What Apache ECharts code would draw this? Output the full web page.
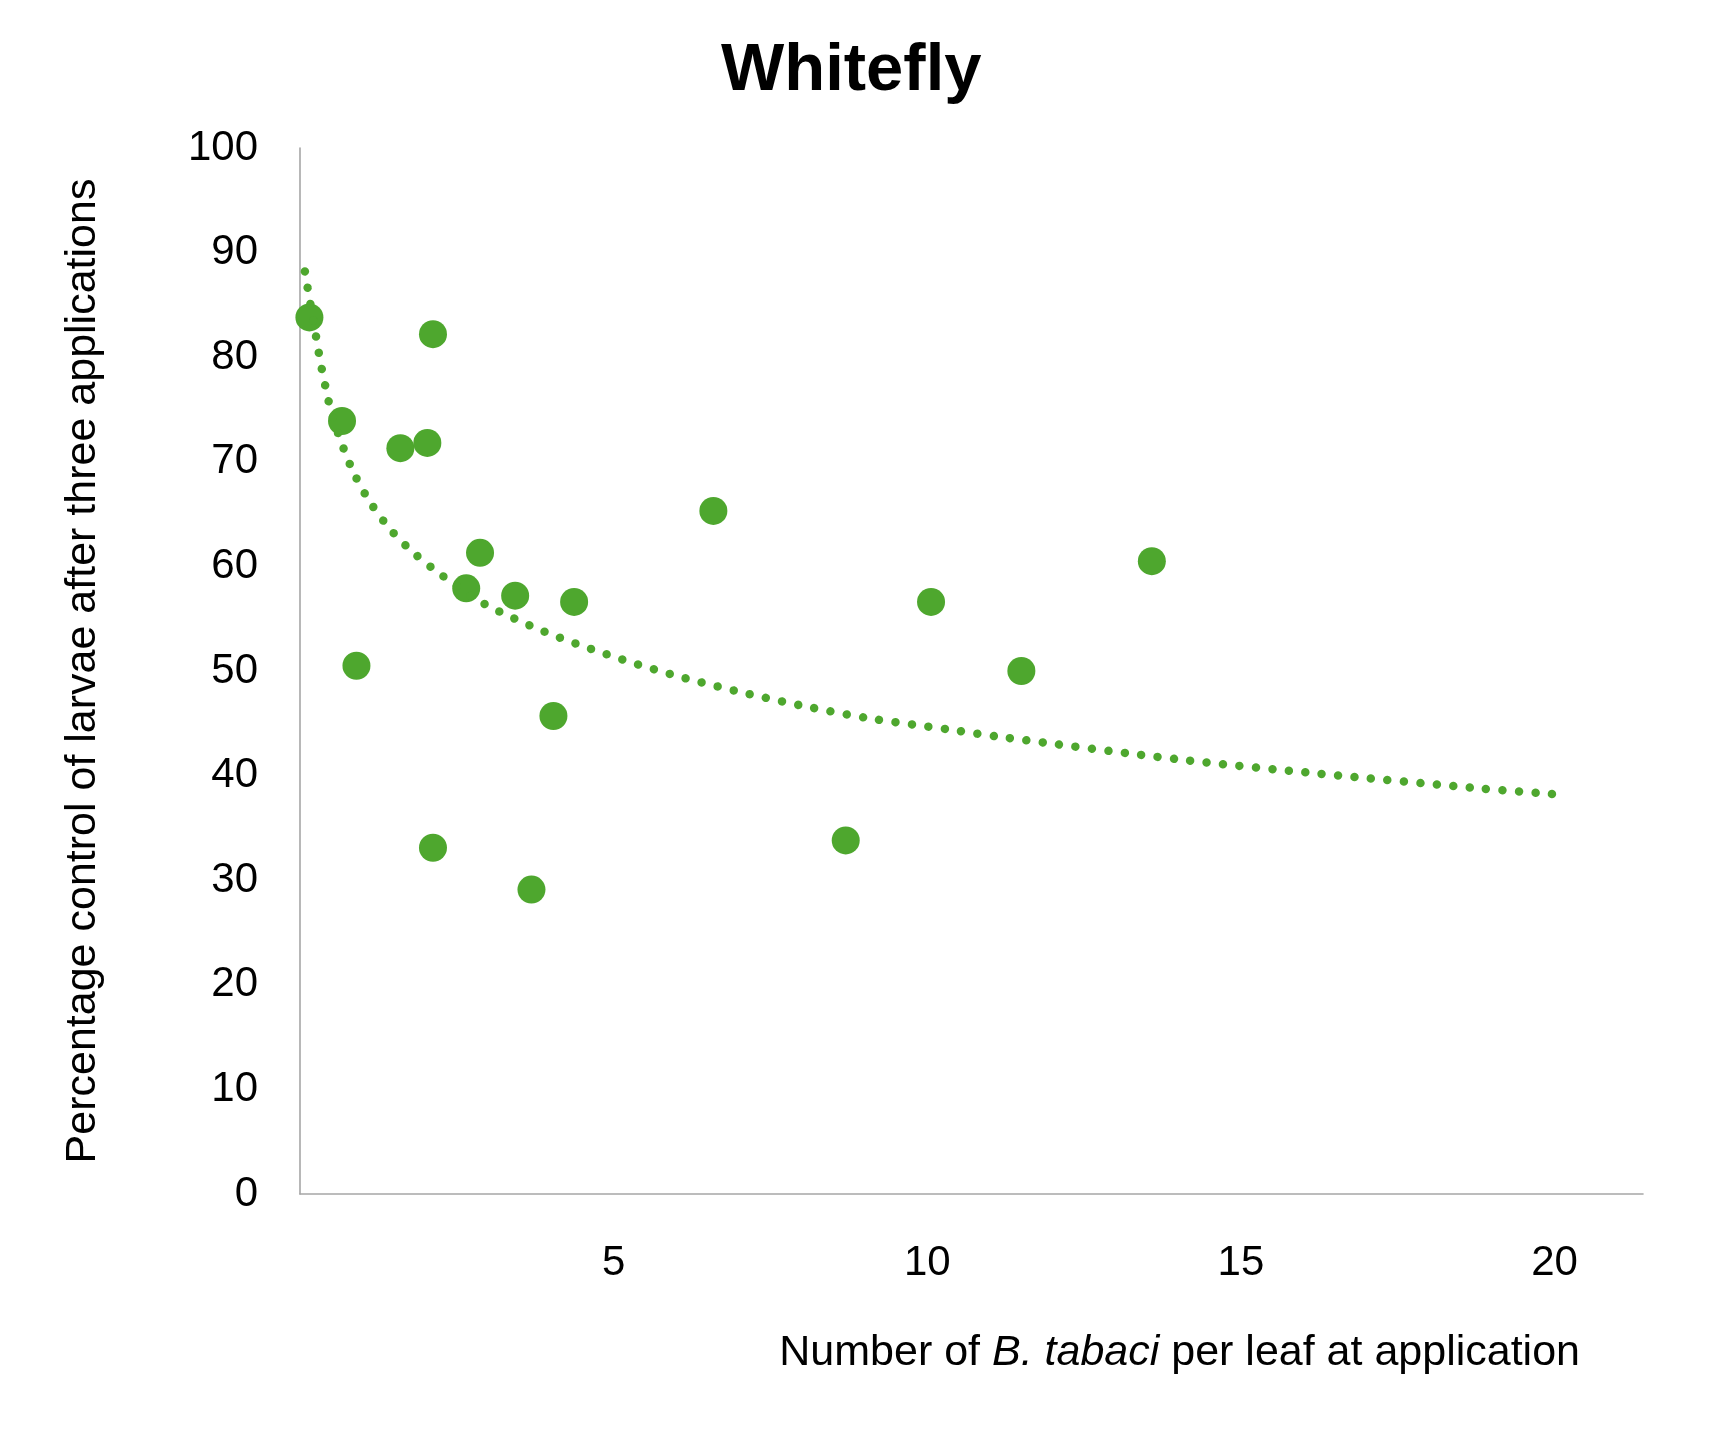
<!DOCTYPE html>
<html>
<head>
<meta charset="utf-8">
<script src="https://cdn.jsdelivr.net/npm/echarts@6/dist/echarts.min.js"></script>
<style>
html,body{margin:0;padding:0;background:#fff;}
#chart{width:1714px;height:1435px;}
</style>
</head>
<body>
<div id="chart"></div>
<script>
// Observed points: number of B. tabaci per leaf (x) vs % control (y)
const xValues = [0.15, 2.12, 0.67, 1.60, 2.03, 2.87, 2.65, 3.43, 4.37, 6.59, 0.90, 4.04, 2.12, 3.69, 8.70, 10.06, 11.50, 13.58];
const yValues = [83.8, 82.2, 73.9, 71.3, 71.8, 61.3, 57.9, 57.2, 56.6, 65.3, 50.5, 45.7, 33.1, 29.1, 33.8, 56.6, 50.0, 60.5];

// Trendline (logarithmic, dotted)
const trendX = [0.078, 0.142, 0.235, 0.327, 0.434, 0.498, 0.662, 0.868, 1.133, 1.46, 1.83, 2.25, 2.914, 3.882, 4.886, 5.906, 6.946, 7.993, 9.047, 10.36, 11.16, 14.08, 16.22, 18.86, 20.04];
const trendY = [88.2, 85.9, 82.7, 79.5, 76.4, 74.8, 71.8, 68.8, 66.0, 63.4, 61.2, 59.2, 56.5, 53.8, 51.6, 49.7, 48.1, 46.7, 45.5, 44.4, 43.7, 41.5, 40.2, 38.75, 38.2];

const yTicks = [0, 10, 20, 30, 40, 50, 60, 70, 80, 90, 100];
const xTicks = [5, 10, 15, 20];

const GREEN = '#4EA72E';
const FONT = "'Liberation Sans', Arial, sans-serif";

const points = xValues.map((x, i) => [x, yValues[i]]);
const trend = trendX.map((x, i) => [x, trendY[i]]);

const chart = echarts.init(document.getElementById('chart'), null, {renderer: 'canvas'});
chart.setOption({
  backgroundColor: '#ffffff',
  animation: false,
  title: [
    {
      text: 'Whitefly',
      left: 716,
      top: 33,
      textStyle: {fontFamily: FONT, fontWeight: 'bold', fontSize: 67, color: '#000'}
    },
    {
      text: '{n|Number of }{i|B. tabaci}{n| per leaf at application}',
      right: 129,
      top: 1327,
      textStyle: {
        fontWeight: 'normal',
        rich: {
          n: {fontFamily: FONT, fontSize: 43, fontWeight: 'normal', color: '#000'},
          i: {fontFamily: FONT, fontSize: 43, fontWeight: 'normal', fontStyle: 'italic', color: '#000'}
        }
      }
    }
  ],
  grid: {left: 300, right: 71, top: 148, bottom: 241, containLabel: false},
  xAxis: {
    type: 'value',
    min: 0,
    max: 21.41,
    interval: 5,
    axisLine: {show: true, lineStyle: {color: '#A6A6A6', width: 1.6}},
    axisTick: {show: false},
    splitLine: {show: false},
    axisLabel: {
      showMinLabel: false,
      showMaxLabel: false,
      margin: 48,
      fontFamily: FONT, fontSize: 42, color: '#000',
      formatter: v => (xTicks.indexOf(v) >= 0 ? String(v) : '')
    }
  },
  yAxis: {
    type: 'value',
    min: 0,
    max: 100,
    interval: 10,
    name: 'Percentage control of larvae after three applications',
    nameLocation: 'middle',
    nameGap: 195,
    nameTextStyle: {fontFamily: FONT, fontSize: 43, color: '#000'},
    axisLine: {show: true, lineStyle: {color: '#A6A6A6', width: 1.6}},
    axisTick: {show: false},
    splitLine: {show: false},
    axisLabel: {
      margin: 42,
      fontFamily: FONT, fontSize: 42, color: '#000',
      formatter: v => (yTicks.indexOf(v) >= 0 ? String(v) : '')
    }
  },
  series: [
    {
      type: 'line',
      data: trend,
      smooth: 0.3,
      showSymbol: false,
      symbol: 'none',
      lineStyle: {color: GREEN, width: 8.5, type: [0.01, 16.5], cap: 'round'},
      z: 3
    },
    {
      type: 'scatter',
      data: points,
      symbol: 'circle',
      symbolSize: 28,
      itemStyle: {color: GREEN, opacity: 1},
      z: 2
    }
  ]
});
</script>
</body>
</html>
